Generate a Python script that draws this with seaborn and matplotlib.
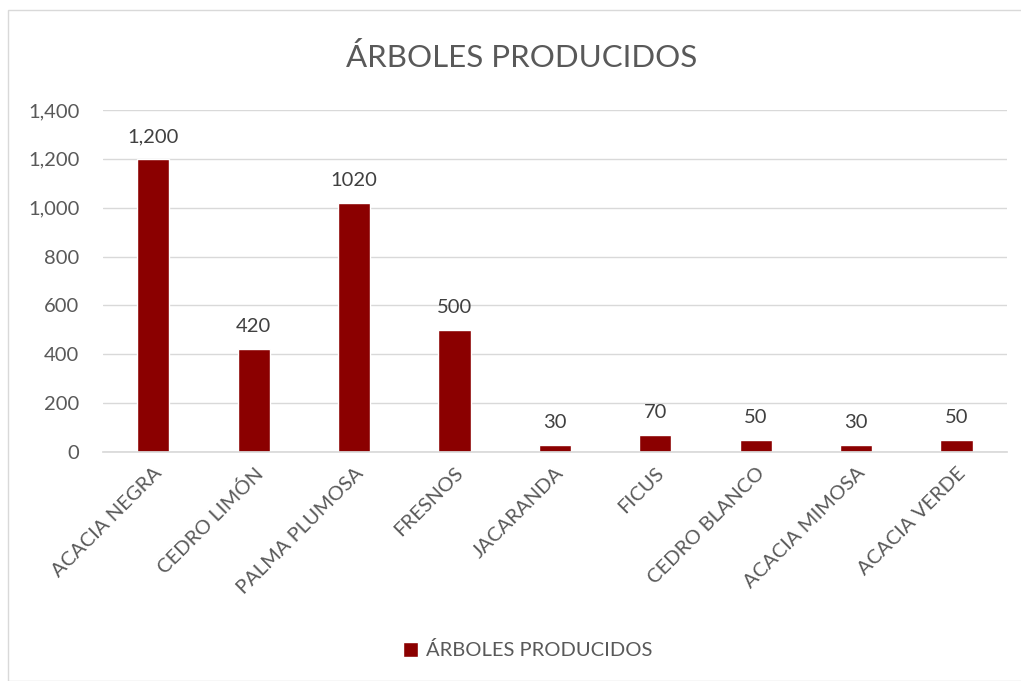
import pandas as pd
import matplotlib.pyplot as plt
import seaborn as sns
from matplotlib.patches import Rectangle

# Datos del grafico
arboles = ["ACACIA NEGRA", "CEDRO LIMÓN", "PALMA PLUMOSA", "FRESNOS", "JACARANDA",
           "FICUS", "CEDRO BLANCO", "ACACIA MIMOSA", "ACACIA VERDE"]
producidos = [1200, 420, 1020, 500, 30, 70, 50, 30, 50]
etiquetas = ["1,200", "420", "1020", "500", "30", "70", "50", "30", "50"]
marcas_y = [0, 200, 400, 600, 800, 1000, 1200, 1400]
marcas_y_texto = ["0", "200", "400", "600", "800", "1,000", "1,200", "1,400"]

datos = pd.DataFrame({"arbol": arboles, "total": producidos})

sns.set_theme(style="white")
plt.rcParams["font.family"] = ["Lato", "DejaVu Sans"]

gris = "#595959"
rojo = "#8B0000"

fig = plt.figure(figsize=(10.21, 6.81), dpi=100)
ax = fig.add_axes([0.101, 0.3363, 0.885, 0.5022])

sns.barplot(x="arbol", y="total", data=datos, color=rojo, width=0.32, ax=ax,
            saturation=1, label="ÁRBOLES PRODUCIDOS")

ax.set_ylim(0, 1400)
ax.set_yticks(marcas_y)
ax.set_yticklabels(marcas_y_texto, color=gris, fontsize=14.5)
ax.yaxis.grid(True, color="#D9D9D9", linewidth=1)
ax.set_axisbelow(True)
for lado in ["top", "right", "left"]:
    ax.spines[lado].set_visible(False)
ax.spines["bottom"].set_color("#D9D9D9")
ax.tick_params(axis="y", length=0, pad=17)
ax.tick_params(axis="x", length=0, pad=9)
ax.set_xlabel("")
ax.set_ylabel("")
ax.set_xticks(range(len(arboles)))
ax.set_xticklabels(arboles, rotation=45, ha="right", rotation_mode="anchor",
                   color=gris, fontsize=14.5)

# etiquetas de valor
for i, v in enumerate(producidos):
    ax.annotate(etiquetas[i], (i, v), xytext=(0, 10), textcoords="offset points",
                ha="center", va="bottom", color="#404040", fontsize=14.5)

fig.text(0.511, 0.916, "ÁRBOLES PRODUCIDOS", ha="center", va="center",
         color=gris, fontsize=22.5)

leg = ax.legend(loc="center", bbox_to_anchor=(0.517, 0.045), bbox_transform=fig.transFigure,
                frameon=False, fontsize=14.5, handlelength=0.75, handleheight=0.75,
                handletextpad=0.4)
for t in leg.get_texts():
    t.set_color(gris)

# borde del area del grafico
fig.patches.append(Rectangle((8 / 1021, 0), 1.2, 1 - 10 / 681, transform=fig.transFigure,
                             fill=False, edgecolor="#D9D9D9", linewidth=1))

fig.savefig("out.png", dpi=100)
